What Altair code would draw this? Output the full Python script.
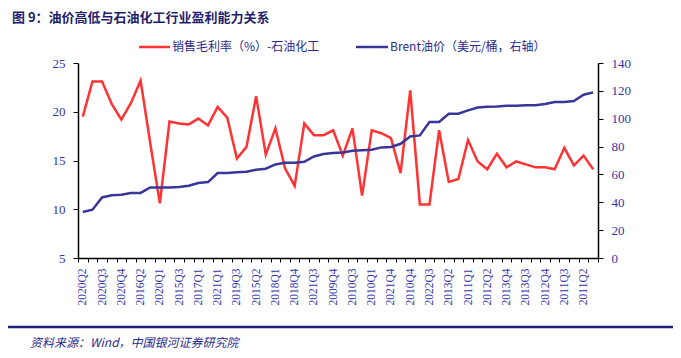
import altair as alt
import pandas as pd

# Category labels (quarters, sorted by Brent price); only every other one is printed
cats = ["2020Q2", "2016Q1", "2020Q3", "2015Q4", "2020Q4", "2016Q3", "2016Q2", "2016Q4",
        "2020Q1", "2017Q2", "2015Q3", "2017Q3", "2017Q1", "2017Q4", "2021Q1", "2019Q1",
        "2019Q3", "2019Q4", "2015Q2", "2009Q3", "2018Q1", "2019Q2", "2018Q4", "2018Q2",
        "2021Q3", "2018Q3", "2009Q4", "2010Q2", "2010Q3", "2021Q2", "2010Q1", "2014Q4",
        "2021Q4", "2022Q4", "2010Q4", "2014Q3", "2022Q3", "2022Q1", "2013Q2", "2014Q2",
        "2011Q1", "2013Q1", "2012Q2", "2014Q1", "2013Q4", "2012Q3", "2013Q3", "2011Q4",
        "2012Q4", "2012Q1", "2011Q3", "2022Q2", "2011Q2", "2008Q2"]

margin = [19.5, 23.1, 23.1, 20.8, 19.2, 20.9, 23.2, 16.8, 10.6, 19.0,
          18.8, 18.7, 19.3, 18.6, 20.5, 19.4, 15.2, 16.4, 21.6, 15.6,
          18.3, 14.2, 12.4, 18.8, 17.6, 17.6, 18.1, 15.5, 18.3, 11.4,
          18.1, 17.8, 17.3, 13.7, 22.2, 10.5, 10.5, 18.1, 12.8, 13.1,
          17.1, 14.9, 14.1, 15.7, 14.3, 14.9, 14.6, 14.3, 14.3, 14.1,
          16.3, 14.5, 15.5, 14.1]

brent = [33.0, 34.7, 43.5, 45.0, 45.4, 46.7, 46.7, 50.7, 50.7, 50.7,
         50.9, 51.9, 53.8, 54.5, 61.0, 61.0, 61.5, 62.0, 63.4, 64.1,
         67.2, 68.4, 68.4, 69.1, 72.9, 74.7, 75.4, 75.8, 77.0, 77.3,
         77.7, 79.4, 79.7, 82.0, 87.3, 88.0, 97.6, 97.6, 103.6, 103.6,
         106.0, 108.1, 108.6, 108.8, 109.3, 109.3, 109.6, 109.6, 110.5, 112.0,
         112.0, 112.7, 117.2, 118.9]

title_text = "图 9：油价高低与石油化工行业盈利能力关系"
legend_red = "销售毛利率（%）-石油化工"
legend_blue = "Brent油价（美元/桶，右轴）"
source_text = "资料来源：Wind，中国银河证券研究院"

RED = "#FF3333"
BLUE = "#3A3597"
NAVY = "#2B2B8C"
LABEL = "#3535A8"
SERIF = "Liberation Serif"
CJK = "Noto Sans CJK SC"

df = pd.DataFrame({"cat": cats, "margin": margin, "brent": brent})
n = len(cats)

xenc = alt.X(
    "cat:N", sort=cats, title=None,
    scale=alt.Scale(type="band", paddingInner=0, paddingOuter=0),
    axis=alt.Axis(
        labelAngle=270, labelFont=SERIF, labelFontSize=11.5, labelColor=LABEL,
        labelOverlap=False, labelPadding=6,
        labelExpr=f"round(datum.index*{n - 1}) % 2 == 0 ? datum.label : ''",
        tickBand="extent", tickColor="black", tickSize=4, domainColor="black",
        domainWidth=1.5, grid=False,
    ),
)

base = alt.Chart(df)

red_line = base.mark_line(color=RED, strokeWidth=2.5).encode(
    x=xenc,
    y=alt.Y("margin:Q", title=None,
            scale=alt.Scale(domain=[5, 25], nice=False, zero=False),
            axis=alt.Axis(values=[5, 10, 15, 20, 25], orient="left", grid=False,
                          labelFont=SERIF, labelFontSize=13, labelColor=LABEL,
                          tickColor="black", tickSize=5, domainColor="black",
                          domainWidth=1.5, labelPadding=8)),
)

blue_line = base.mark_line(color=BLUE, strokeWidth=2.5).encode(
    x=xenc,
    y=alt.Y("brent:Q", title=None,
            scale=alt.Scale(domain=[0, 140], nice=False),
            axis=alt.Axis(values=list(range(0, 141, 20)), orient="right", grid=False,
                          labelFont=SERIF, labelFontSize=13, labelColor=LABEL,
                          tickColor="black", tickSize=5, domainColor="black",
                          domainWidth=1.5, labelPadding=8)),
)

one = pd.DataFrame({"k": [0]})


def txt(text, x, y, size=12, color=NAVY, weight="normal", style="normal", font=CJK):
    return alt.Chart(one).mark_text(
        text=text, align="left", baseline="middle", fontSize=size, color=color,
        fontWeight=weight, fontStyle=style, font=font,
    ).encode(x=alt.value(x), y=alt.value(y))


def rule(x1, x2, y, color, width):
    return alt.Chart(one).mark_rule(color=color, strokeWidth=width).encode(
        x=alt.value(x1), x2=alt.value(x2), y=alt.value(y))


title = txt(title_text, -66, -45, size=13, color="#1F1F6E", weight="bold")
leg_r_line = rule(61, 92, -16, RED, 2.5)
leg_r_text = txt(legend_red, 94, -16, size=12)
leg_b_line = rule(278, 310, -16, BLUE, 2.5)
leg_b_text = txt(legend_blue, 312, -16, size=12)
foot_line = rule(-70, 595, 264, "#1F1F7A", 2.5)
foot_text = txt(source_text, -48, 280, size=12, style="italic")

lines = alt.layer(red_line, blue_line).resolve_scale(y="independent")

chart = alt.layer(
    lines, title, leg_r_line, leg_r_text, leg_b_line, leg_b_text, foot_line, foot_text
).resolve_scale(y="independent").properties(
    width=520, height=195,
    autosize="none",
    padding={"left": 70, "top": 55, "right": 75, "bottom": 92},
).configure_view(stroke=None)

chart.save("out.html", embed_options={"renderer": "svg", "actions": False})
